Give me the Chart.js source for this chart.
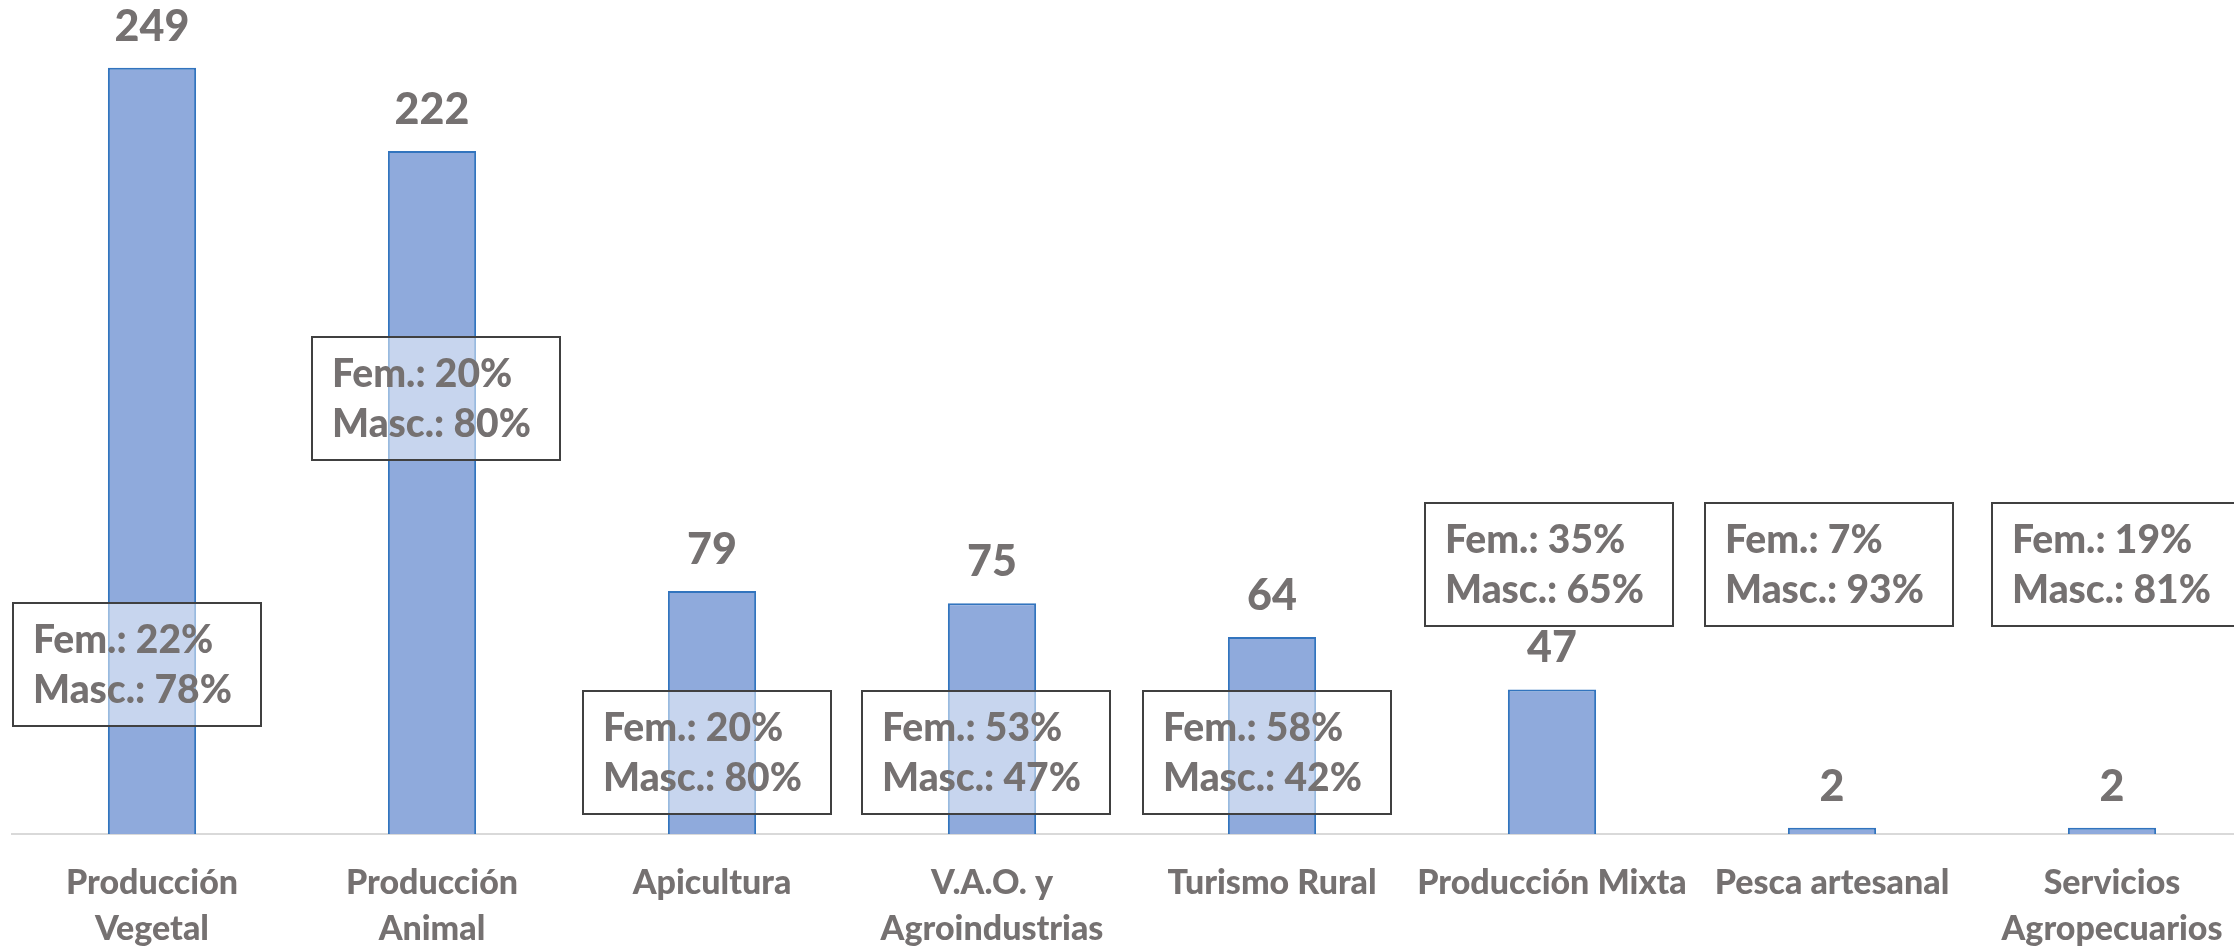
<!DOCTYPE html>
<html>
<head>
<meta charset="utf-8">
<script src="https://cdn.jsdelivr.net/npm/chart.js@4"></script>
<style>
  html, body { margin: 0; padding: 0; background: #fff; overflow: hidden; width: 2234px; height: 949px; }
  canvas { display: block; }
</style>
</head>
<body>
<canvas id="c" width="2270" height="949"></canvas>
<script>
const categories = [
  ["Producción", "Vegetal"],
  ["Producción", "Animal"],
  ["Apicultura"],
  ["V.A.O. y", "Agroindustrias"],
  ["Turismo Rural"],
  ["Producción Mixta"],
  ["Pesca artesanal"],
  ["Servicios", "Agropecuarios"]
];
const values  = [249, 222, 79, 75, 64, 47, 2, 2];
const femPct  = [22, 20, 20, 53, 58, 35, 7, 19];
const mascPct = [78, 80, 80, 47, 42, 65, 93, 81];

// annotation box placement (dx in px from category centre, top in value units)
const noteLayout = [
  { dx: -15,  top: 75.1 },
  { dx: 3.5,  top: 161.5 },
  { dx: -5.5, top: 46.5 },
  { dx: -6.5, top: 46.5 },
  { dx: -5.5, top: 46.5 },
  { dx: -3,   top: 107.6 },
  { dx: -3.5, top: 107.6 },
  { dx: 4,    top: 107.6 }
];

const TEXT = '#757171';
const BOX_W = 248, BOX_H = 123;
const WEIGHT = '900';

const notesPlugin = {
  id: 'notes',
  afterDatasetsDraw(chart) {
    const { ctx, scales: { x, y } } = chart;
    const meta = chart.getDatasetMeta(0);
    ctx.save();
    ctx.font = WEIGHT + ' 43px Lato';
    ctx.fillStyle = TEXT;
    ctx.textAlign = 'center';
    ctx.textBaseline = 'middle';
    meta.data.forEach((bar, i) => {
      ctx.fillText(String(values[i]), bar.x, bar.y - 41);
    });
    categories.forEach((c, i) => {
      const cx = x.getPixelForValue(i) + noteLayout[i].dx;
      const top = Math.round(y.getPixelForValue(noteLayout[i].top));
      const left = Math.round(cx - BOX_W / 2);
      ctx.fillStyle = 'rgba(255,255,255,0.5)';
      ctx.fillRect(left, top, BOX_W, BOX_H);
      ctx.strokeStyle = '#404040';
      ctx.lineWidth = 2;
      ctx.strokeRect(left, top, BOX_W, BOX_H);
      ctx.fillStyle = TEXT;
      ctx.textAlign = 'left';
      ctx.textBaseline = 'middle';
      ctx.font = WEIGHT + ' 39px Lato';
      ctx.fillText('Fem.: ' + femPct[i] + '%', left + 20, top + 37);
      ctx.fillText('Masc.: ' + mascPct[i] + '%', left + 20, top + 87);
    });
    ctx.restore();
  }
};

new Chart(document.getElementById('c'), {
  type: 'bar',
  data: {
    labels: categories,
    datasets: [{
      data: values,
      backgroundColor: '#8FAADC',
      borderColor: '#3274BE',
      borderWidth: 2,
      borderSkipped: 'start',
      categoryPercentage: 1,
      barPercentage: 0.315
    }]
  },
  options: {
    responsive: false,
    animation: false,
    layout: { padding: { left: 12, right: 18, top: 34, bottom: 0 } },
    plugins: { legend: { display: false }, tooltip: { enabled: false } },
    scales: {
      x: {
        grid: { display: false, drawTicks: false },
        border: { display: true, color: '#D9D9D9', width: 2 },
        ticks: {
          color: TEXT,
          padding: 26,
          maxRotation: 0,
          autoSkip: false,
          font: { family: 'Lato', weight: WEIGHT, size: 34, lineHeight: 46 / 34 }
        },
        afterFit(scale) { scale.height = 115; }
      },
      y: {
        display: false,
        min: 0,
        max: 260
      }
    }
  },
  plugins: [notesPlugin]
});
</script>
</body>
</html>
